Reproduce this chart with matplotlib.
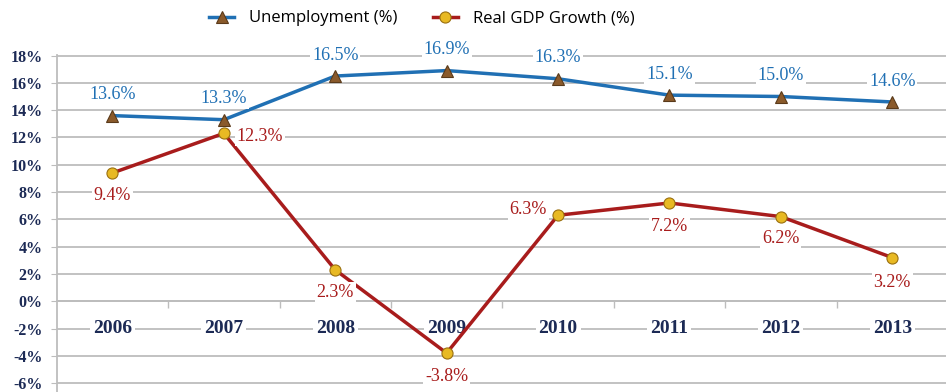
import matplotlib
matplotlib.use("Agg")
import matplotlib.pyplot as plt
from matplotlib.ticker import FixedLocator

years = ["2006", "2007", "2008", "2009", "2010", "2011", "2012", "2013"]
unemployment = [13.6, 13.3, 16.5, 16.9, 16.3, 15.1, 15.0, 14.6]
gdp_growth = [9.4, 12.3, 2.3, -3.8, 6.3, 7.2, 6.2, 3.2]
y_ticks = list(range(-6, 19, 2))

BLUE = "#2070b4"
RED = "#a81c1c"
NAVY = "#1c2a55"
GRID = "#bdbdbd"
SERIF = "Liberation Serif"

# where each GDP label sits relative to its point (offset in points, ha)
gdp_label_pos = [(0, -16, "center"), (9, -2, "left"), (0, -16, "center"), (0, -17, "center"),
                 (-8, 4, "right"), (0, -17, "center"), (0, -16, "center"), (0, -18, "center")]

fig = plt.figure(figsize=(9.46, 3.92), dpi=100)
ax = fig.add_axes([0.060, 0.0, 0.942, 0.860])
x = list(range(len(years)))

ax.set_xlim(-0.5, 7.5)
ax.set_ylim(-6.65, 18.05)

ax.yaxis.set_major_locator(FixedLocator(y_ticks))
ax.set_yticklabels([f"{t}%" for t in y_ticks], fontfamily=SERIF, fontweight="bold",
                   fontsize=11.5, color=NAVY)
ax.grid(axis="y", color=GRID, lw=1.3, zorder=0)
ax.tick_params(axis="y", length=4, color=GRID, pad=6)

# category axis crossing at 0 with ticks between categories
ax.spines["bottom"].set_position(("data", 0))
ax.spines["bottom"].set_color(GRID)
ax.spines["bottom"].set_linewidth(1.3)
ax.set_xticks([i + 0.5 for i in x[:-1]])
ax.set_xticklabels([])
ax.tick_params(axis="x", length=5, color=GRID, width=1)
for i, yr in enumerate(years):
    ax.text(i, -2, yr, ha="center", va="center", fontfamily=SERIF, fontweight="bold",
            fontsize=14, color=NAVY, zorder=2,
            bbox=dict(boxstyle="square,pad=0.15", fc="white", ec="none"))
for s in ["top", "right"]:
    ax.spines[s].set_visible(False)
ax.spines["left"].set_color(GRID)
ax.spines["left"].set_linewidth(1.3)

ax.plot(x, unemployment, color=BLUE, lw=2.5, marker="^", ms=9, mfc="#8a5a2b",
        mec="#5a3a1a", mew=0.8, zorder=4, label="Unemployment (%)")
ax.plot(x, gdp_growth, color=RED, lw=2.5, marker="o", ms=8, mfc="#e8b923",
        mec="#9a7010", mew=0.8, zorder=4, label="Real GDP Growth (%)")

for i, v in enumerate(unemployment):
    ax.annotate(f"{v:.1f}%", (i, v), xytext=(0, 15), textcoords="offset points",
                ha="center", va="center", fontfamily=SERIF, fontsize=13, color=BLUE, zorder=5,
                bbox=dict(boxstyle="square,pad=0.1", fc="white", ec="none"))
for i, v in enumerate(gdp_growth):
    dx, dy, ha = gdp_label_pos[i]
    ax.annotate(f"{v:.1f}%", (i, v), xytext=(dx, dy), textcoords="offset points",
                ha=ha, va="center", fontfamily=SERIF, fontsize=13, color=RED, zorder=5,
                bbox=dict(boxstyle="square,pad=0.1", fc="white", ec="none"))

fig.legend(loc="center", bbox_to_anchor=(0.446, 0.953), ncol=2, frameon=False,
           prop={"family": "Open Sans", "size": 12}, handlelength=1.5, columnspacing=2.1,
           handletextpad=0.9)

fig.savefig("out.png", dpi=100)
